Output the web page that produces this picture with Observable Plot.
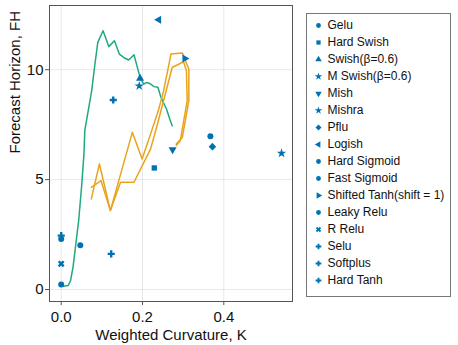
<!DOCTYPE html>
<html>
<head>
<meta charset="utf-8">
<script src="https://cdn.jsdelivr.net/npm/d3@7"></script>
<script src="https://cdn.jsdelivr.net/npm/@observablehq/plot@0.6"></script>
<style>
  html, body { margin: 0; padding: 0; background: #fff; }
  #wrap { position: relative; width: 458px; height: 345px; overflow: hidden; font-family: "Liberation Sans", Arial, sans-serif; }
  #main { position: absolute; left: 0; top: 0; }
  #legend { position: absolute; left: 306px; top: 13px; width: 145px; height: 284px; box-sizing: border-box; border: 1px solid #777; background: #fff; }
  #legend svg { position: absolute; left: 0; top: 0; }
</style>
</head>
<body>
<div id="wrap"><div id="main"></div><div id="legend"></div></div>
<script>
// ---- data ----
const names = ["Gelu", "Hard Swish", "Swish(β=0.6)", "M Swish(β=0.6)", "Mish", "Mishra", "Pflu", "Logish",
  "Hard Sigmoid", "Fast Sigmoid", "Shifted Tanh(shift = 1)", "Leaky Relu", "R Relu", "Selu", "Softplus", "Hard Tanh"];
const curvatureK = [0.367, 0.229, 0.194, 0.192, 0.274, 0.542, 0.372, 0.240, 0.0, 0.047, 0.304, 0.0, 0.0, 0.128, 0.123, 0.0];
const horizonFH  = [6.97, 5.53, 9.60, 9.26, 6.36, 6.20, 6.50, 12.27, 2.30, 2.01, 10.51, 0.23, 1.17, 8.62, 1.62, 2.45];
const markers  = ["circle", "square", "triangle", "star", "triangle", "star", "square", "triangle",
  "circle", "circle", "triangle", "circle", "cross", "cross", "cross", "cross"];
const rotations = [0, 0, 0, 0, 180, 0, 45, -90, 0, 0, 90, 0, 45, 0, 0, 0];

const greenK  = [0.004, 0.017, 0.023, 0.029, 0.035, 0.043, 0.050, 0.056, 0.058, 0.075, 0.083, 0.090, 0.103, 0.117, 0.131, 0.143, 0.156, 0.166, 0.179, 0.195, 0.203, 0.211, 0.220, 0.228, 0.238, 0.244, 0.251, 0.259, 0.267, 0.273];
const greenFH = [0.15, 0.18, 0.41, 1.01, 1.92, 3.14, 4.65, 6.17, 7.23, 9.05, 10.26, 11.24, 11.77, 11.05, 11.32, 10.71, 10.53, 10.44, 10.68, 9.58, 9.35, 9.42, 9.35, 9.23, 9.20, 8.82, 8.51, 8.21, 7.76, 7.45];

const orangeAK  = [0.074, 0.098, 0.121, 0.175, 0.199, 0.220, 0.239, 0.252, 0.270, 0.298, 0.314, 0.314, 0.298, 0.283];
const orangeAFH = [4.65, 4.95, 3.59, 7.15, 5.94, 7.08, 8.14, 9.05, 10.71, 10.76, 10.03, 8.59, 6.92, 6.62];
const orangeBK  = [0.074, 0.094, 0.121, 0.146, 0.179, 0.220, 0.239, 0.273, 0.301, 0.308, 0.310, 0.293, 0.283];
const orangeBFH = [4.12, 5.71, 3.59, 4.88, 4.88, 6.40, 7.68, 10.10, 10.36, 9.95, 8.59, 6.77, 6.55];

const xTicks = [0, 0.2, 0.4];
const yTicks = [0, 5, 10];
const xLabel = "Weighted Curvature, K";
const yLabel = "Forecast Horizon, FH";

// ---- build tables ----
const points = names.map((n, i) => ({name: n, k: curvatureK[i], fh: horizonFH[i], rot: rotations[i]}));
const green = greenK.map((k, i) => ({k, fh: greenFH[i]}));
const orangeA = orangeAK.map((k, i) => ({k, fh: orangeAFH[i]}));
const orangeB = orangeBK.map((k, i) => ({k, fh: orangeBFH[i]}));

const BLUE = "#0072b2", GREEN = "#1fa983", ORANGE = "#e9a31c";
const FONT = "Liberation Sans, Arial, sans-serif";

const main = Plot.plot({
  width: 458, height: 345,
  marginLeft: 49, marginRight: 166, marginTop: 5, marginBottom: 44,
  style: {fontFamily: FONT, fontSize: "15px", color: "#111", background: "transparent"},
  x: {domain: [-0.0288, 0.569], label: null},
  y: {domain: [-0.545, 12.92], label: null},
  symbol: {domain: names, range: markers},
  marks: [
    Plot.gridX(xTicks, {stroke: "#000", strokeOpacity: 0.09, strokeWidth: 1}),
    Plot.gridY(yTicks, {stroke: "#000", strokeOpacity: 0.09, strokeWidth: 1}),
    Plot.line(green, {x: "k", y: "fh", stroke: GREEN, strokeWidth: 1.5}),
    Plot.line(orangeA, {x: "k", y: "fh", stroke: ORANGE, strokeWidth: 1.5}),
    Plot.line(orangeB, {x: "k", y: "fh", stroke: ORANGE, strokeWidth: 1.5}),
    Plot.dot(points, {x: "k", y: "fh", symbol: "name", rotate: "rot", fill: BLUE, r: 3}),
    Plot.frame({stroke: "#555", strokeWidth: 1}),
    Plot.axisX(xTicks, {tickFormat: d3.format(".1f"), tickSize: 4, tickPadding: 6, stroke: "#555", fontSize: 15, label: null}),
    Plot.axisY(yTicks, {tickFormat: d3.format("d"), tickSize: 4, tickPadding: 2, stroke: "#555", fontSize: 15, label: null}),
    Plot.text([xLabel], {frameAnchor: "bottom", dy: 34, lineAnchor: "middle", fontSize: 15, fill: "#111"}),
    Plot.text([yLabel], {frameAnchor: "left", dx: -34, rotate: -90, lineAnchor: "middle", fontSize: 15, fill: "#111"})
  ]
});
document.getElementById("main").appendChild(main);

const legend = Plot.plot({
  width: 143, height: 282,
  margin: 0,
  style: {fontFamily: FONT, fontSize: "12px", color: "#111", background: "transparent"},
  x: {axis: null},
  y: {type: "point", domain: names, range: [11, 266], padding: 0, axis: null},
  symbol: {domain: names, range: markers},
  marks: [
    Plot.dot(points, {y: "name", symbol: "name", rotate: "rot", fill: BLUE, r: 2.4, frameAnchor: "left", dx: 11}),
    Plot.text(points, {y: "name", text: "name", frameAnchor: "left", dx: 20, textAnchor: "start", fontSize: 12, fill: "#111"})
  ]
});
document.getElementById("legend").appendChild(legend);
</script>
</body>
</html>
